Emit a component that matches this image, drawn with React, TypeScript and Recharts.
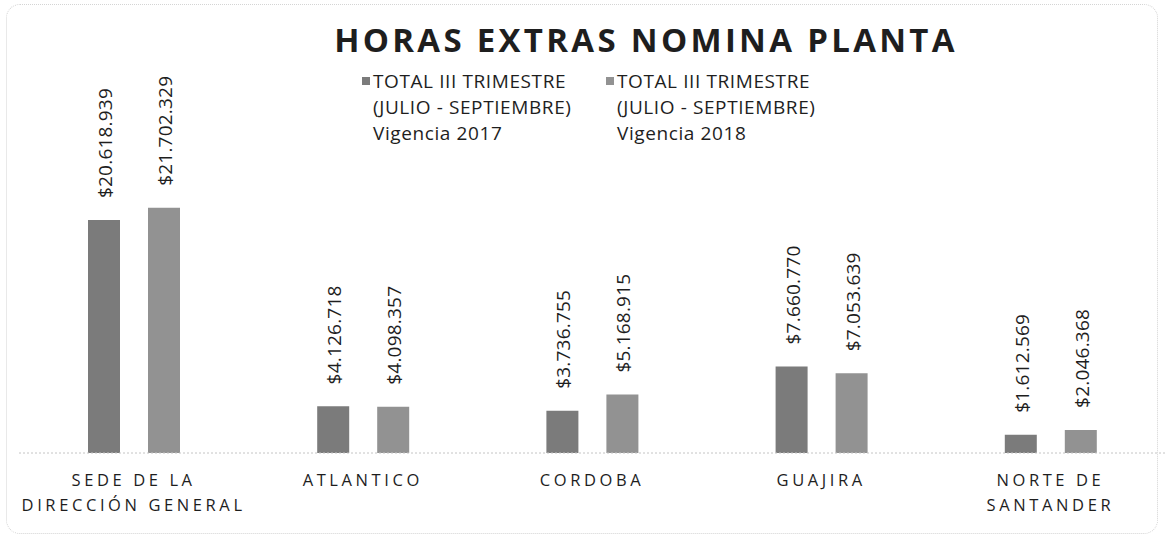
import { BarChart, Bar, XAxis, YAxis, Legend, LabelList } from 'recharts'

const categories = ['SEDE DE LA\nDIRECCIÓN GENERAL', 'ATLANTICO', 'CORDOBA', 'GUAJIRA', 'NORTE DE\nSANTANDER']
const vigencia2017 = [20618939, 4126718, 3736755, 7660770, 1612569]
const vigencia2018 = [21702329, 4098357, 5168915, 7053639, 2046368]
const seriesLabels = [
  'TOTAL III TRIMESTRE\n(JULIO - SEPTIEMBRE)\nVigencia 2017',
  'TOTAL III TRIMESTRE\n(JULIO - SEPTIEMBRE)\nVigencia 2018',
]

const COLORS = {
  bar2017: '#7b7b7b',
  bar2018: '#929292',
  text: '#1e1e1e',
  axis: '#c4c4c4',
} as const

const FONT = '"Open Sans", "Noto Sans", sans-serif'

const data = categories.map((name, i) => ({
  name,
  v2017: vigencia2017[i],
  v2018: vigencia2018[i],
}))

const money = (v: number) => '$' + String(v).replace(/\B(?=(\d{3})+(?!\d))/g, '.')

function ValueLabel(props: any) {
  const { x, y, width, value } = props
  const cx = x + width / 2 + 1
  const cy = y - 22
  return (
    <text
      x={cx}
      y={cy}
      transform={`rotate(-90 ${cx} ${cy})`}
      textAnchor="start"
      dominantBaseline="central"
      fontSize={19}
      letterSpacing={0.2}
      fontFamily={FONT}
      fill={COLORS.text}
    >
      {money(value)}
    </text>
  )
}

function CategoryTick(props: any) {
  const { x, y, payload } = props
  const lines = String(payload.value).split('\n')
  return (
    <text
      x={x}
      y={y}
      textAnchor="middle"
      fontSize={16.5}
      letterSpacing={3.6}
      fontFamily={FONT}
      fill={COLORS.text}
    >
      {lines.map((line, i) => (
        <tspan key={i} x={x} dy={i === 0 ? 33 : 25}>
          {line}
        </tspan>
      ))}
    </text>
  )
}

function LegendContent(props: any) {
  const { payload = [] } = props
  return (
    <div style={{ display: 'flex', fontFamily: FONT, fontSize: 19, letterSpacing: 0.6, color: COLORS.text }}>
      {payload.map((item: any, i: number) => (
        <div key={i} style={{ display: 'flex', width: 244, alignItems: 'flex-start' }}>
          <span
            style={{
              display: 'inline-block',
              width: 8,
              height: 8,
              marginTop: 9,
              marginRight: 3,
              background: item.color,
            }}
          />
          <div style={{ lineHeight: '26px', whiteSpace: 'pre' }}>{item.value}</div>
        </div>
      ))}
    </div>
  )
}

export default function App() {
  return (
    <div style={{ position: 'absolute', left: 0, top: 0, width: 1165, height: 539, background: '#fff' }}>
      <div
        style={{
          position: 'absolute',
          left: 6,
          top: 4,
          width: 1150,
          height: 528,
          border: '1px dotted #d4d4d4',
          borderRadius: 14,
        }}
      />
      <div
        style={{
          position: 'absolute',
          left: 646,
          top: 20,
          transform: 'translateX(-50%)',
          whiteSpace: 'nowrap',
          fontFamily: FONT,
          fontWeight: 700,
          fontSize: 33,
          letterSpacing: 3.3,
          lineHeight: '40px',
          color: COLORS.text,
        }}
      >
        HORAS EXTRAS NOMINA PLANTA
      </div>
      <BarChart
        width={1165}
        height={539}
        data={data}
        margin={{ top: 114, right: 0, bottom: 56, left: 19 }}
        barSize={32}
        barGap={28}
      >
        <XAxis
          dataKey="name"
          tick={<CategoryTick />}
          tickLine={false}
          tickSize={0}
          tickMargin={0}
          height={30}
          interval={0}
          stroke={COLORS.axis}
          strokeDasharray="2 2"
        />
        <YAxis hide domain={[0, 30000000]} />
        <Legend
          layout="horizontal"
          align="center"
          verticalAlign="middle"
          content={<LegendContent />}
          wrapperStyle={{ position: 'absolute', top: 68, left: 362, width: 540 }}
        />
        <Bar dataKey="v2017" name={seriesLabels[0]} fill={COLORS.bar2017} isAnimationActive={false}>
          <LabelList dataKey="v2017" content={<ValueLabel />} />
        </Bar>
        <Bar dataKey="v2018" name={seriesLabels[1]} fill={COLORS.bar2018} isAnimationActive={false}>
          <LabelList dataKey="v2018" content={<ValueLabel />} />
        </Bar>
      </BarChart>
    </div>
  )
}
